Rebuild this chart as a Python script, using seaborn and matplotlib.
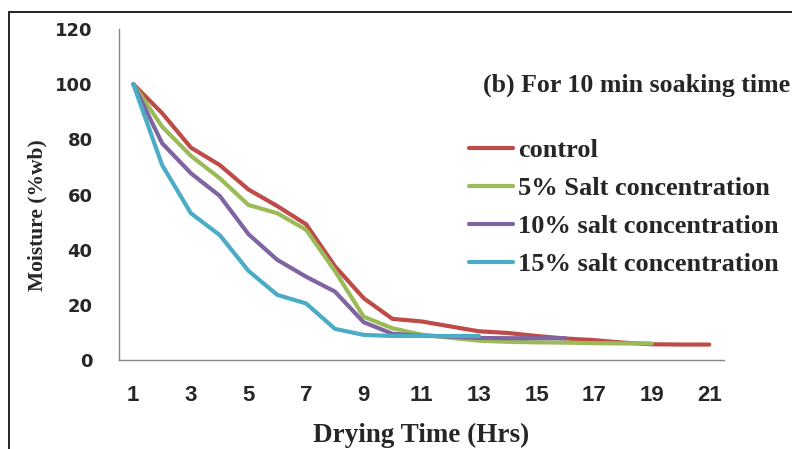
import matplotlib
matplotlib.use("Agg")
import matplotlib.pyplot as plt
from matplotlib.patches import Rectangle
import seaborn as sns
import pandas as pd
import numpy as np

# ---- data ----
hours = list(range(1, 22))
control = [100, 89.5, 77.0, 70.7, 61.8, 55.8, 49.2, 34.0, 22.4, 14.9, 14.0, 12.2, 10.4, 9.8, 8.7, 7.8, 7.2, 6.3, 5.7, 5.6, 5.6]
salt5 = [100, 84.6, 74.0, 65.9, 56.2, 53.2, 47.2, 32.3, 15.7, 11.5, 9.2, 8.1, 7.0, 6.6, 6.4, 6.3, 6.1, 6.0, 6.0]
salt10 = [100, 78.6, 67.7, 59.5, 45.6, 36.3, 30.2, 24.8, 13.7, 9.5, 8.8, 8.5, 8.0, 7.9, 7.9, 7.9]
salt15 = [100, 70.7, 53.2, 45.3, 32.3, 23.6, 20.5, 11.3, 9.1, 8.7, 8.7, 8.7, 8.7]
series_names = ["control", "5% Salt concentration", "10% salt concentration", "15% salt concentration"]
series_vals = [control, salt5, salt10, salt15]
colors = ["#BE4B48", "#9BBB59", "#8064A2", "#4BACC6"]
xtick_labels = [str(h) for h in range(1, 22, 2)]
yticks = [0, 20, 40, 60, 80, 100, 120]

rows = []
for name, vals in zip(series_names, series_vals):
    for h, v in zip(hours, vals):
        rows.append({"Hour": h, "Moisture": v, "Series": name})
df = pd.DataFrame(rows)

sns.set_style("white")
serif = "Liberation Serif"
plt.rcParams["font.family"] = ["DejaVu Sans"]

fig = plt.figure(figsize=(7.92, 4.49), dpi=100)
ax = fig.add_axes([118.9 / 792, 1 - 360 / 449, 604.8 / 792, 331 / 449])

sns.lineplot(data=df, x="Hour", y="Moisture", hue="Series", palette=colors,
             hue_order=series_names, linewidth=3.0, ax=ax, legend=True)

ax.set_xlim(0.5, 21.5)
ax.set_ylim(0, 120)

# y axis
ax.set_yticks(yticks)
ax.set_yticklabels([str(v) for v in yticks], fontsize=13, fontweight="bold", family="DejaVu Sans")
ax.tick_params(axis="y", direction="out", length=7, width=1, color="#868686", pad=12)

# x axis: labels at odd hours, tick marks between categories
ax.set_xticks(list(range(1, 22, 2)))
ax.set_xticklabels(xtick_labels, fontsize=16, fontweight="bold", family="Liberation Sans")
ax.set_xticks(np.arange(0.5, 22, 1.0), minor=True)
ax.tick_params(axis="x", which="major", length=0, pad=18)
ax.tick_params(axis="x", which="minor", direction="out", length=8, width=1, color="#868686")

for s in ["top", "right"]:
    ax.spines[s].set_visible(False)
for s in ["left", "bottom"]:
    ax.spines[s].set_color("#868686")
    ax.spines[s].set_linewidth(1.0)

ax.set_xlabel("Drying Time (Hrs)", fontsize=19.5, fontweight="bold", family=serif)
ax.xaxis.set_label_coords(0.5, -0.19)
ax.set_ylabel("Moisture (%wb)", fontsize=15.5, fontweight="bold", family=serif)
ax.yaxis.set_label_coords(-0.118, 0.438)

leg = ax.legend(loc="upper left", bbox_to_anchor=(469 / 792, 1 - 139 / 449),
                bbox_transform=fig.transFigure, frameon=False,
                prop={"family": serif, "weight": "bold", "size": 19},
                handlelength=1.65, handletextpad=0.2, labelspacing=0.55, borderaxespad=0,
                borderpad=0)
for line in leg.get_lines():
    line.set_linewidth(3.0)

fig.text(483 / 792, 1 - 85 / 449, "(b) For 10 min soaking time", fontsize=18.6,
         fontweight="bold", family=serif, va="center", ha="left")

fig.patches.append(Rectangle((9 / 792, -0.2), 1.2, 1 - 12 / 449 + 0.2, transform=fig.transFigure,
                             fill=False, edgecolor="black", linewidth=1.2, clip_on=False))

fig.savefig("out.png", dpi=100)
